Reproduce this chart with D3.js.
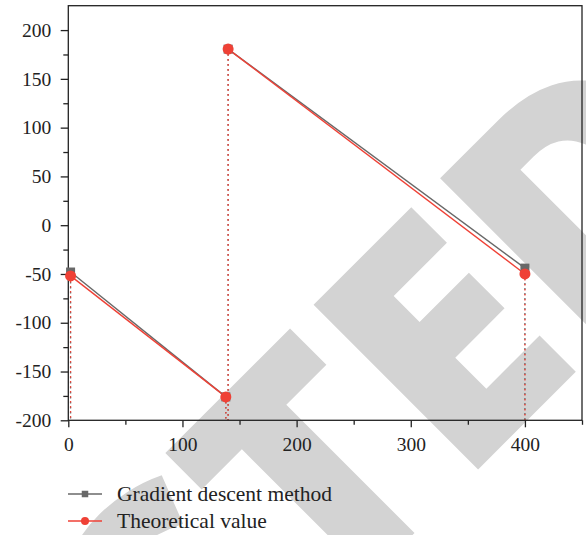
<!DOCTYPE html>
<html><head><meta charset="utf-8">
<script src="https://cdn.jsdelivr.net/npm/d3@7"></script>
<style>body{margin:0;background:#fff}svg{display:block}</style>
</head><body>
<svg id="c" width="586" height="535"></svg>
<script>
// ---- data ----
const seriesNames = ["Gradient descent method", "Theoretical value"];
const gdX = [2, 138, 140, 400];
const gdY = [-48, -176, 180.5, -44];
const thX = [2, 138, 140, 400];
const thY = [-52, -176, 180.5, -50];
const segmentId = [0, 0, 1, 1];
const xTicks = [0, 100, 200, 300, 400];
const xMinorTicks = [50, 150, 250, 350, 450];
const yTicks = [-200, -150, -100, -50, 0, 50, 100, 150, 200];
const yMinorTicks = [-175, -125, -75, -25, 25, 75, 125, 175];
const watermarkText = "RETRACTED";

// ---- layout ----
const W = 586, H = 535;
const L = 68.3, R = 582, T = 5.7, B = 420.3;
const serif = "'Liberation Serif', 'Times New Roman', serif";
const colGray = "#686868", colRed = "#ef4136";

const svg = d3.select("#c");
const x = d3.scaleLinear().domain([0, 450]).range([L, R]);
const y = d3.scaleLinear().domain([-200, 225]).range([B, T]);

// watermark (behind everything)
const wm = svg.append("g").attr("transform", "rotate(-45)");
const wmText = wm.append("text")
  .attr("x", 0).attr("y", 670)
  .attr("font-family", "'Open Sans', 'DejaVu Sans', sans-serif")
  .attr("font-weight", 800)
  .attr("font-size", 326)
  .attr("fill", "#d3d3d3")
  .text(watermarkText);
const ePos = wmText.node().getStartPositionOfChar(7).x;
wmText.attr("x", -19 - ePos);

const series = [
  {name: seriesNames[0], xs: gdX, ys: gdY, color: colGray, shape: "square"},
  {name: seriesNames[1], xs: thX, ys: thY, color: colRed, shape: "circle"}
];

// drop lines
series.forEach(s => {
  svg.append("g").selectAll("line").data(s.xs.map((v, i) => [v, s.ys[i]])).join("line")
    .attr("x1", d => x(d[0])).attr("x2", d => x(d[0]))
    .attr("y1", d => y(d[1])).attr("y2", B)
    .attr("stroke", s.color).attr("stroke-width", 1.3)
    .attr("stroke-dasharray", "1.6,3.4");
});

// axes
const fontSize = 19.5;
const ax = svg.append("g").attr("transform", `translate(0,${B})`)
  .call(d3.axisBottom(x).tickValues(xTicks).tickSize(7).tickPadding(9.5).tickFormat(d3.format("d")));
const axm = svg.append("g").attr("transform", `translate(0,${B})`)
  .call(d3.axisBottom(x).tickValues(xMinorTicks).tickSize(4.5).tickFormat(""));
const ay = svg.append("g").attr("transform", `translate(${L},0)`)
  .call(d3.axisLeft(y).tickValues(yTicks).tickSize(7.6).tickPadding(9.4).tickFormat(d => String(d)));
const aym = svg.append("g").attr("transform", `translate(${L},0)`)
  .call(d3.axisLeft(y).tickValues(yMinorTicks).tickSize(5).tickFormat(""));
[ax, axm, ay, aym].forEach(g => {
  g.select(".domain").remove();
  g.selectAll("line").attr("stroke", "#222").attr("stroke-width", 1.3);
  g.selectAll("text").attr("font-family", serif).attr("font-size", fontSize).attr("fill", "#222");
});

// frame
svg.append("rect").attr("x", L).attr("y", T).attr("width", R - L).attr("height", B - T)
  .attr("fill", "none").attr("stroke", "#222").attr("stroke-width", 1.3);

// lines
const lineGen = d3.line().x(d => x(d[0])).y(d => y(d[1]));
series.forEach(s => {
  const pts = s.xs.map((v, i) => [v, s.ys[i], segmentId[i]]);
  const groups = d3.groups(pts, d => d[2]);
  svg.append("g").selectAll("path").data(groups).join("path")
    .attr("d", g => lineGen(g[1]))
    .attr("fill", "none").attr("stroke", s.color).attr("stroke-width", 1.4);
});

// markers
function marker(g, shape, color, cx, cy, size) {
  if (shape === "square") {
    g.append("rect").attr("x", cx - size / 2).attr("y", cy - size / 2)
      .attr("width", size).attr("height", size).attr("fill", color);
  } else {
    g.append("circle").attr("cx", cx).attr("cy", cy).attr("r", size / 2).attr("fill", color);
  }
}
series.forEach(s => {
  const g = svg.append("g");
  s.xs.forEach((v, i) => marker(g, s.shape, s.color, x(v), y(s.ys[i]), s.shape === "square" ? 9 : 11));
});

// legend
const leg = svg.append("g");
series.forEach((s, i) => {
  const ly = 494 + i * 27;
  leg.append("line").attr("x1", 68).attr("x2", 102).attr("y1", ly).attr("y2", ly)
    .attr("stroke", s.color).attr("stroke-width", 1.4);
  marker(leg, s.shape, s.color, 85, ly, s.shape === "square" ? 6.5 : 8);
  leg.append("text").attr("x", 117).attr("y", ly + 6.5)
    .attr("font-family", serif).attr("font-size", 21.5).attr("fill", "#222")
    .text(s.name);
});
</script>
</body></html>
